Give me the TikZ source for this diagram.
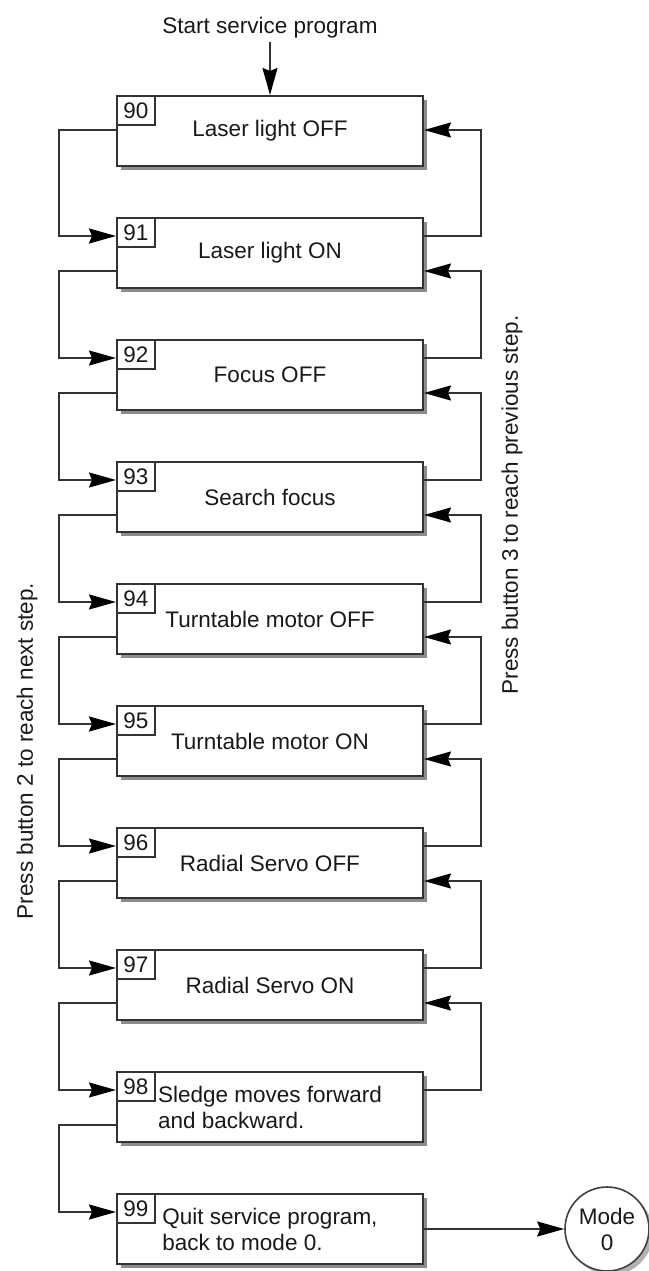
\documentclass[tikz,border=0pt]{standalone}
\usepackage{fontspec}
\setmainfont{Liberation Sans}
\usetikzlibrary{calc,arrows.meta,shadows}

\begin{document}
\begin{tikzpicture}[x=1pt,y=-1pt,
	every node/.style={text=black!90,font=\fontsize{22.5}{26}\selectfont},
	stepbox/.style={draw=black!80,line width=2pt,fill=white,minimum width=306pt,minimum height=70pt,inner sep=0pt,align=left,
		drop shadow={shadow xshift=4pt,shadow yshift=-4pt,fill=black!45,opacity=1}},
	numbox/.style={draw=black!80,line width=1.6pt,minimum width=38pt,minimum height=29pt,inner sep=0pt,anchor=north west},
	modecirc/.style={circle,draw=black!75,line width=1.6pt,fill=white,minimum size=84pt,inner sep=0pt,align=center,
		drop shadow={shadow xshift=4pt,shadow yshift=-4pt,fill=black!30,opacity=1}},
	link/.style={draw=black!80,line width=2pt,-{Stealth[length=27pt,width=15pt,inset=3pt,fill=black,color=black]}}]
				\def\dy{122};
				\def\gap{57};
				\useasboundingbox (0,0) rectangle (648,1271);
				\foreach \n/\txt [count=\i from 0] in {90/Laser light OFF,91/Laser light ON,92/Focus OFF,93/Search focus,
					94/Turntable motor OFF,95/Turntable motor ON,96/Radial Servo OFF,97/Radial Servo ON,
					98/{Sledge moves forward\\and backward.},99/{Quit service program,\\back to mode 0.}}
				{
					\node[stepbox] (b\n) at (270,{131+\dy*\i}) {\txt};
					\node[numbox] (n\n) at (b\n.north west) {\n};
				}
				\node (start) at (270,28) {Start service program};
				\draw[link] (start) -- (b90);
				% next step (left side)
				\foreach \a/\b/\off in {90/91/35,91/92/54,92/93/54,93/94/54,94/95/54,95/96/54,96/97/54,97/98/54,98/99/54}
					\draw[link] ($(b\a.north west)+(0,\off)$) -- ++(-\gap,0) |- ($(b\b.north west)+(0,19)$);
				% previous step (right side)
				\foreach \a/\b/\off in {90/91/35,91/92/54,92/93/54,93/94/54,94/95/54,95/96/54,96/97/54,97/98/54}
					\draw[link] ($(b\b.north east)+(0,19)$) -- ++(\gap,0) |- ($(b\a.north east)+(0,\off)$);
				\node[modecirc] (mode) at (607,1229) {Mode\\0};
				\draw[link] (b99) -- (mode);
				\node[rotate=90] (next) at (27,751) {Press button 2 to reach next step.};
				\node[rotate=90] (prev) at (512,505) {Press button 3 to reach previous step.};
			\end{tikzpicture}
\end{document}
